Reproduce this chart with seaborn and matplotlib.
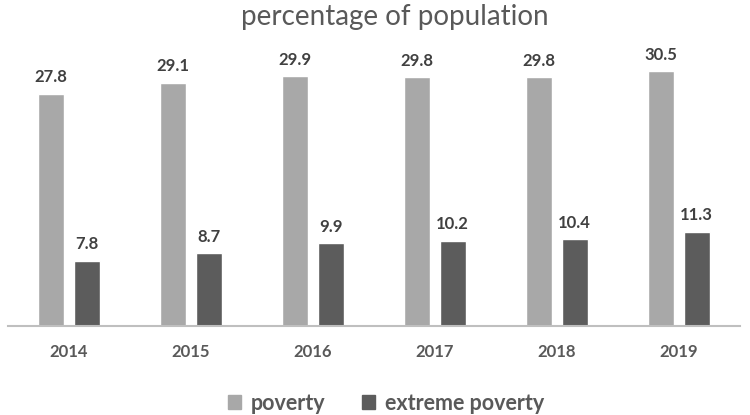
import matplotlib
matplotlib.use("Agg")
import matplotlib.pyplot as plt
import seaborn as sns
import pandas as pd

years = ["2014", "2015", "2016", "2017", "2018", "2019"]
poverty = [27.8, 29.1, 29.9, 29.8, 29.8, 30.5]
extreme_poverty = [7.8, 8.7, 9.9, 10.2, 10.4, 11.3]
series_names = ["poverty", "extreme poverty"]
colors = ["#a8a8a8", "#5c5c5c"]

df = pd.DataFrame({
    "year": years * 2,
    "value": poverty + extreme_poverty,
    "series": [series_names[0]] * len(years) + [series_names[1]] * len(years),
})

sns.set_theme(style="white")
plt.rcParams["font.family"] = ["Lato", "DejaVu Sans"]

fig = plt.figure(figsize=(7.5, 4.15), dpi=100)
ax = fig.add_axes([8 / 750, 89 / 415, 732 / 750, 0.685])

sns.barplot(data=df, x="year", y="value", hue="series", palette=colors,
            width=0.58, gap=0.27, saturation=1, ax=ax, legend=False)

ax.set_xlim(-0.5, len(years) - 0.5)
ax.set_ylim(0, 34)
ax.set_xlabel("")
ax.set_ylabel("")
ax.set_yticks([])
for side in ["top", "left", "right"]:
    ax.spines[side].set_visible(False)
ax.spines["bottom"].set_color("#bfbfbf")
ax.spines["bottom"].set_linewidth(1.5)
ax.tick_params(axis="x", length=0, pad=13, labelsize=12, labelcolor="#595959")
for lbl in ax.get_xticklabels():
    lbl.set_fontweight("bold")

for cont in ax.containers:
    ax.bar_label(cont, fmt="%.1f", padding=6, fontsize=12,
                 fontweight="bold", color="#404040")

fig.suptitle("percentage of population", x=0.527, y=0.99, fontsize=20,
             color="#595959", va="top")

handles = [plt.Rectangle((0, 0), 1, 1, color=c) for c in colors]
fig.legend(handles, series_names, loc="center", bbox_to_anchor=(0.515, 1 - 403 / 415),
           ncol=2, frameon=False, handlelength=0.6, handleheight=0.6,
           handletextpad=0.45, columnspacing=1.7,
           prop={"weight": "bold", "size": 15.5})
for t in fig.legends[0].get_texts():
    t.set_color("#595959")

fig.savefig("out.png", dpi=100, facecolor="white")
